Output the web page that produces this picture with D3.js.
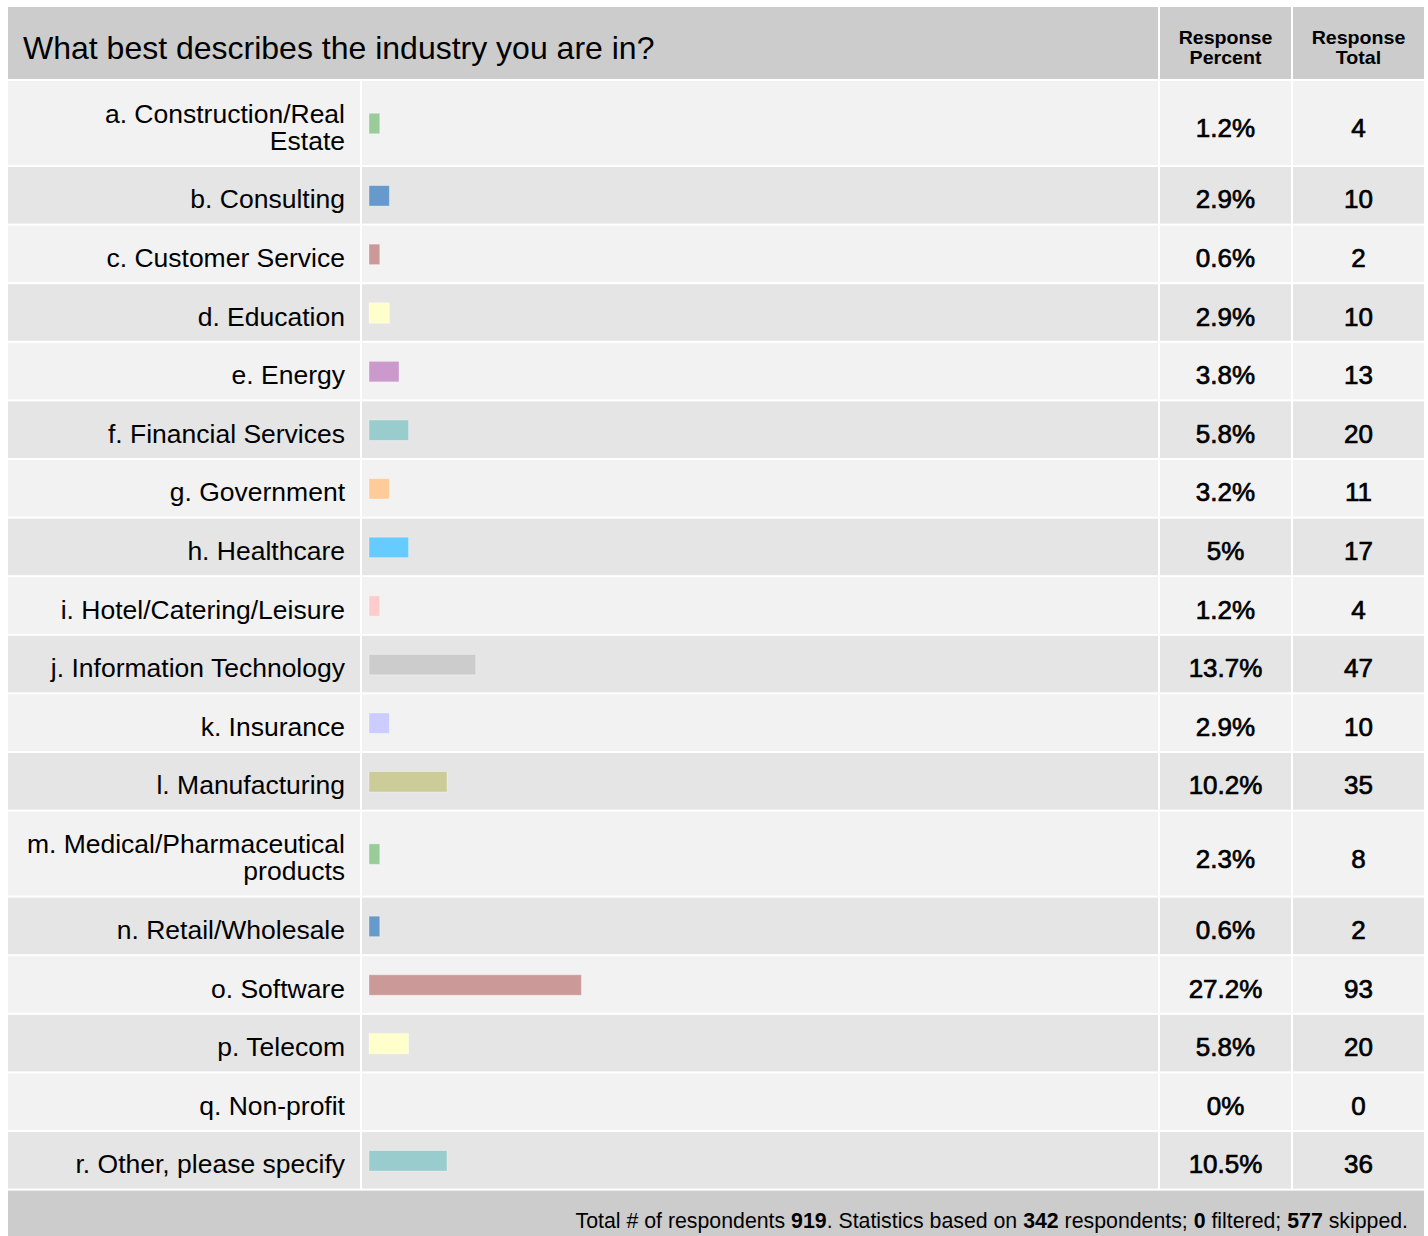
<!DOCTYPE html>
<html>
<head>
<meta charset="utf-8">
<script src="https://cdn.jsdelivr.net/npm/d3@7"></script>
<style>
  html, body { margin: 0; padding: 0; background: #ffffff; }
  svg { display: block; font-family: "Liberation Sans", Arial, sans-serif; }
</style>
</head>
<body>
<svg id="chart" width="1428" height="1236"></svg>
<script>
// ---------- data ----------
const title = "What best describes the industry you are in?";
const columnHeaders = [["Response", "Percent"], ["Response", "Total"]];
const categories = [
  "a. Construction/Real\nEstate",
  "b. Consulting",
  "c. Customer Service",
  "d. Education",
  "e. Energy",
  "f. Financial Services",
  "g. Government",
  "h. Healthcare",
  "i. Hotel/Catering/Leisure",
  "j. Information Technology",
  "k. Insurance",
  "l. Manufacturing",
  "m. Medical/Pharmaceutical\nproducts",
  "n. Retail/Wholesale",
  "o. Software",
  "p. Telecom",
  "q. Non-profit",
  "r. Other, please specify"
];
const percents = [1.2, 2.9, 0.6, 2.9, 3.8, 5.8, 3.2, 5, 1.2, 13.7, 2.9, 10.2, 2.3, 0.6, 27.2, 5.8, 0, 10.5];
const totals   = [4, 10, 2, 10, 13, 20, 11, 17, 4, 47, 10, 35, 8, 2, 93, 20, 0, 36];
const palette  = ["#99cc99", "#6699cc", "#cc9999", "#ffffcc", "#cc99cc", "#99cccc",
                  "#ffcc99", "#66ccff", "#ffcccc", "#cccccc", "#ccccff", "#cccc99"];
const totalRespondents = 919;
const basedOn = 342;
const filtered = 0;
const skipped = 577;
const barStep = 1.2; // bar drawn in whole steps of this many percent

// ---------- layout ----------
const W = 1428, H = 1236;
const left = 8, right = 1424;
const headerTop = 7, headerBottom = 79;
const colLabelEnd = 360, colBarStart = 362, colBarEnd = 1158;
const colPctStart = 1160, colPctEnd = 1291, colTotStart = 1293, colTotEnd = 1424;
const sep = 2, rowH = 56.6, tallRowH = 84;
const fontStack = '"Liberation Sans", Arial, sans-serif';

const svg = d3.select("#chart");

// rows geometry
const rows = [];
let cur = headerBottom;
categories.forEach((c, i) => {
  const lines = c.split("\n");
  const y = cur + sep;
  const h = lines.length > 1 ? tallRowH : rowH;
  rows.push({ i, label: c, lines, y, h, pct: percents[i], tot: totals[i] });
  cur = y + h;
});
const footerTop = cur + sep;

// header
svg.append("rect").attr("x", left).attr("y", headerTop)
  .attr("width", right - left).attr("height", headerBottom - headerTop).attr("fill", "#cccccc");
svg.append("line").attr("x1", colBarEnd + 1).attr("x2", colBarEnd + 1)
  .attr("y1", headerTop).attr("y2", headerBottom).attr("stroke", "#ffffff").attr("stroke-width", 2);
svg.append("line").attr("x1", colPctEnd + 1).attr("x2", colPctEnd + 1)
  .attr("y1", headerTop).attr("y2", headerBottom).attr("stroke", "#ffffff").attr("stroke-width", 2);
svg.append("text").attr("x", 23).attr("y", 59)
  .attr("font-family", fontStack).attr("font-size", 32).attr("fill", "#000").text(title);

const colCenters = [(colPctStart + colPctEnd) / 2, (colTotStart + colTotEnd) / 2];
columnHeaders.forEach((lines, k) => {
  lines.forEach((t, j) => {
    svg.append("text")
      .attr("transform", `translate(${colCenters[k]},${43.5 + j * 20}) scale(1.06,1)`)
      .attr("text-anchor", "middle")
      .attr("font-family", fontStack).attr("font-weight", "bold").attr("font-size", 18.5)
      .attr("fill", "#000").text(t);
  });
});

// rows
const x = d3.scaleLinear().domain([0, 100]).range([0, 800]);
const barX = colBarStart + 7;

const g = svg.append("g");
const rowG = g.selectAll("g.row").data(rows).join("g").attr("class", "row");

const bg = d => (d.i % 2 === 0 ? "#f2f2f2" : "#e5e5e5");
rowG.append("rect").attr("x", left).attr("y", d => d.y)
  .attr("width", colLabelEnd - left).attr("height", d => d.h).attr("fill", bg);
rowG.append("rect").attr("x", colBarStart).attr("y", d => d.y)
  .attr("width", colBarEnd - colBarStart).attr("height", d => d.h).attr("fill", bg);
rowG.append("rect").attr("x", colPctStart).attr("y", d => d.y)
  .attr("width", colPctEnd - colPctStart).attr("height", d => d.h).attr("fill", bg);
rowG.append("rect").attr("x", colTotStart).attr("y", d => d.y)
  .attr("width", colTotEnd - colTotStart).attr("height", d => d.h).attr("fill", bg);

// labels
rowG.each(function (d) {
  const n = d.lines.length;
  const cy = d.y + d.h / 2;
  const first = cy + 13 - (n - 1) * 13.5 + (n > 1 ? 0 : 0);
  const t = d3.select(this).append("text")
    .attr("text-anchor", "end").attr("font-family", fontStack)
    .attr("font-size", 26.5).attr("fill", "#000");
  d.lines.forEach((ln, j) => {
    t.append("tspan").attr("x", 345).attr("y", first + j * 27).text(ln);
  });
});

// bars
const barH = 20.5;
rowG.filter(d => d.pct > 0).append("rect")
  .attr("x", barX)
  .attr("y", d => d.y + d.h / 2 - barH / 2 + 0.5)
  .attr("width", d => x(barStep * Math.max(1, Math.floor(d.pct / barStep + 1e-9))) + 1.2)
  .attr("height", barH)
  .attr("fill", d => palette[d.i % palette.length])
  .attr("stroke", "rgba(255,255,255,0.35)").attr("stroke-width", 1);

// numbers
const numOffset = d => d.y + d.h / 2 + (d.lines.length > 1 ? 14 : 13);
rowG.append("text")
  .attr("x", colCenters[0]).attr("y", numOffset)
  .attr("text-anchor", "middle").attr("font-family", fontStack).attr("font-size", 26)
  .attr("fill", "#000").attr("stroke", "#000").attr("stroke-width", 0.7)
  .text(d => d.pct + "%");
rowG.append("text")
  .attr("x", colCenters[1]).attr("y", numOffset)
  .attr("text-anchor", "middle").attr("font-family", fontStack).attr("font-size", 26)
  .attr("fill", "#000").attr("stroke", "#000").attr("stroke-width", 0.7)
  .text(d => d.tot);

// footer
svg.append("rect").attr("x", left).attr("y", footerTop)
  .attr("width", right - left).attr("height", H - footerTop).attr("fill", "#cccccc");
const footerParts = [
  ["Total # of respondents ", false], [String(totalRespondents), true],
  [". Statistics based on ", false], [String(basedOn), true],
  [" respondents; ", false], [String(filtered), true],
  [" filtered; ", false], [String(skipped), true], [" skipped.", false]
];
const ft = svg.append("text").attr("x", 1408).attr("y", 1228)
  .attr("text-anchor", "end").attr("font-family", fontStack)
  .attr("font-size", 21.3).attr("fill", "#000");
footerParts.forEach(([t, b]) => {
  ft.append("tspan").attr("font-weight", b ? "bold" : "normal").text(t);
});
</script>
</body>
</html>
